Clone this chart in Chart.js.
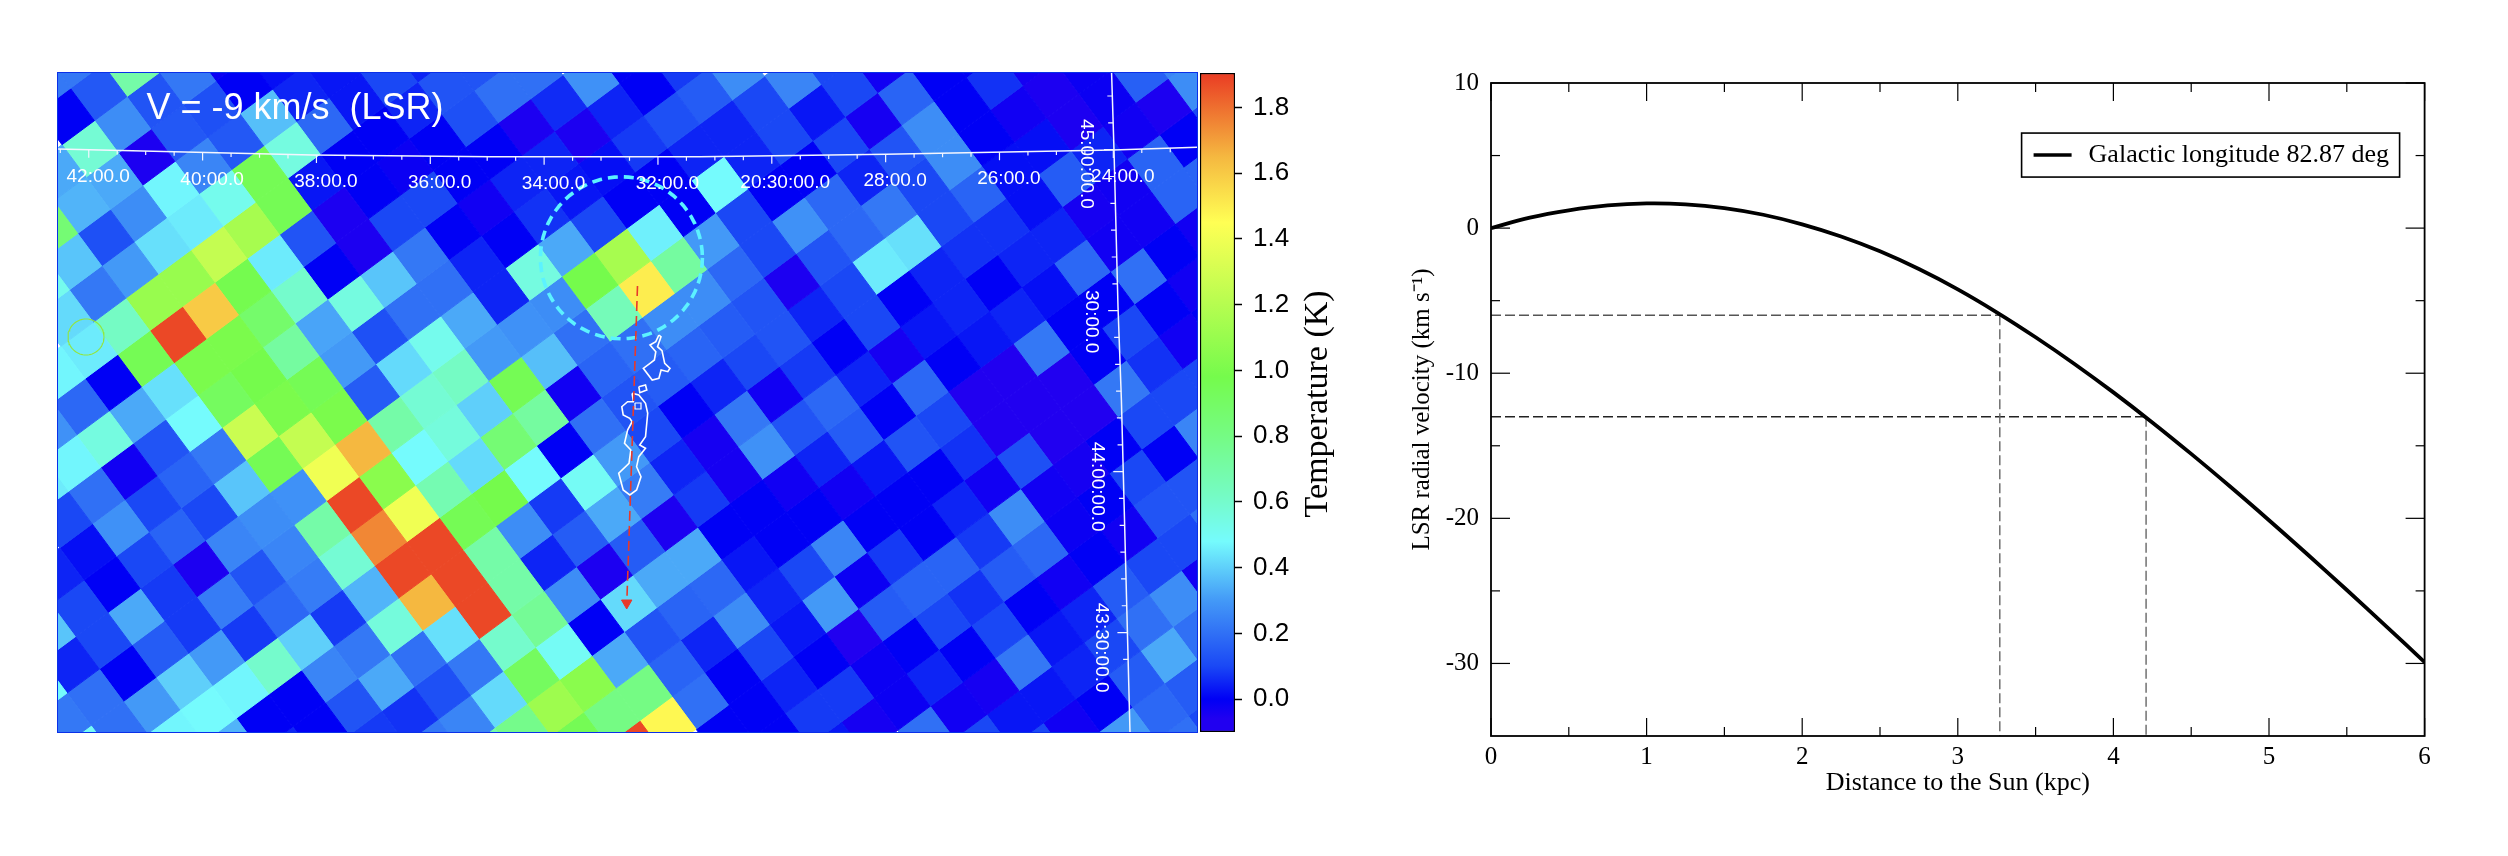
<!DOCTYPE html>
<html>
<head>
<meta charset="utf-8">
<title>Temperature map and rotation curve</title>
<script src="https://cdn.jsdelivr.net/npm/chart.js@4/dist/chart.umd.min.js"></script>
<style>
  html, body { margin: 0; background: #fff; overflow: hidden; }
  canvas { position: absolute; }
  #mapChart { left: 58px; top: 73px; outline: 1.5px solid #0a30e8; }
  #barChart { left: 1190px; top: 40px; }
  #curveChart { left: 1380px; top: 40px; }
</style>
</head>
<body>
<canvas id="mapChart" width="1139" height="659"></canvas>
<canvas id="barChart" width="170" height="800"></canvas>
<canvas id="curveChart" width="1128" height="780"></canvas>
<script>
// brightness temperature (K), one list per tilted map row
const firstRow = -7;
const rowStart = [0,0,-1,-2,-3,-3,-4,-5,-6,-6,-7,-8,-9,-9,-9,-7,-6,-5,-3,-2,-1,1,2,4,5,6,8,9,10,12,13];
const tempRows = [
  [.22,.22],
  [0,.14,.7],
  [.33,.58,.27,.13,.22,-.02],
  [.85,.35,.33,-.05,.14,.12,0,.02],
  [.52,.38,.12,.27,.47,.25,.14,.37,.05,.03],
  [.42,.22,.3,.43,.45,.52,.95,.55,.18,.03,.1,.05],
  [.47,.45,.62,1.1,1.1,1.25,1.15,.95,.03,0,0,.05,.13,.13],
  [.28,.18,0,.95,1.88,1.6,.97,.45,.13,-.05,0,-.02,0,.12,.2,.2],
  [.45,.47,.55,.33,.43,1,1,.88,.6,0,-.05,.1,.1,0,0,-.05,.06,.28,0],
  [.1,.2,-.03,.13,.48,.92,.98,.72,.32,.55,.38,.22,0,-.03,.05,.05,-.05,.05,0,.08],
  [.05,.02,.28,.1,.17,.22,1.27,1,.95,.3,.12,.2,.2,.05,0,.07,.03,.02,.08,.12,.15,.27],
  [.38,.1,0,.1,.17,.1,.38,.95,1.25,1,.15,.42,.52,.33,.05,.55,.33,.1,0,0,.05,.05,.1,.25,.1],
  [.48,.05,.1,.33,.08,-.05,.25,.27,.28,1.4,1.65,.7,.58,.62,.3,.28,.27,.98,1.15,.46,0,.48,.05,.1,.03,.1,-.03],
  [.22,.2,0,.15,.08,.23,.13,.25,.7,1.88,1.05,.48,.56,.4,.95,.37,.2,.65,1.5,.72,.3,.1,0,0,.1,-.04,.17,0,0],
  [.5,.2,.3,.4,.3,.08,.18,.23,.58,1.75,1.4,.67,.42,.85,.72,-.03,.17,.2,.27,.27,.18,.1,.28,.18,.05,.13,.27,0,.07,-.04],
  [.47,.48,.47,.6,.4,.08,.35,1.88,1.88,.95,.98,.48,0,.2,.13,.15,.17,.15,.13,-.05,.13,.18,.22,.1,.27,0,-.03,-.05,-.02],
  [.35,0,0,.25,.22,.56,1.65,1.88,.7,.27,.08,.5,.3,.1,0,.05,.1,.13,.05,.1,.45,.43,.1,.17,.02,.02,-.05,-.02,.16,.25],
  [.05,0,.13,.33,.2,.43,1.88,.7,.05,.15,.33,.23,.05,-.04,.22,-.03,.08,0,.1,0,.05,.07,.07,.02,.15,.05,-.03,-.05,.27],
  [.08,.07,.12,.22,.6,.75,.27,-.05,.15,-.05,.08,-.04,.28,.13,.18,.05,-.04,.03,.05,0,.05,.05,-.04,-.03,.17,0,.1],
  [.22,.25,.42,.92,.5,0,.42,.33,.33,0,0,-.03,.05,.15,0,.18,0,.03,.05,.02,.18,-.03,-.03,.17,.17],
  [.7,.78,1.12,1.05,.33,.13,.17,.18,.03,0,0,-.03,.03,.13,.1,-.08,-.08,.22,0,0,.2,0,-.03],
  [.95,.8,.8,.17,.05,.27,.05,.1,.25,0,0,0,.07,-.08,-.08,-.08,0,.1,0,-.03],
  [1.88,1.47,.2,0,.1,.03,.3,-.02,.08,0,.05,-.03,.12,-.08,-.08,.22,.07,-.03,0],
  [0,0,.05,0,-.06,.15,.17,.17,.08,.27,-.03,-.04,0,.1,.1,.1],
  [0,.08,.08,-.02,0,.1,.07,.15,.18,-.02,0,.1,0,.25],
  [.03,-.04,-.02,.05,0,.1,0,-.03,0,-.03,.13,.13],
  [.2,-.03,-.04,.22,.03,.05,.15,.1,.1,.2],
  [.1,.03,.03,.05,.1,.2,.27,-.03],
  [.1,-.03,0,.15,.33,.2],
  [.3,.18,.15],
  [.2,.1]
];

// colour bar
const barLimits = [-0.1, 1.905];
const barTicks = [0, .2, .4, .6, .8, 1, 1.2, 1.4, 1.6, 1.8];
const stopValues = [-0.1, -0.06, 0, .1, .2, .3, .48, .62, .8, .98, 1.45, 1.65, 1.9];
const stopColors = ['#2100f0','#2100f0','#0000f5','#1a48f5','#3070f5','#4399f7','#75fbfd','#75fbc4','#75fb84','#75fb4c','#ffff54','#f5b840','#ea3e24'];

// sky grid labels
const raLabels = ['42:00.0','40:00.0','38:00.0','36:00.0','34:00.0','32:00.0','20:30:00.0','28:00.0','26:00.0','24:00.0'];
const decLabels = ['45:00:00.0','30:00.0','44:00:00.0','43:30:00.0'];

// rotation curve
const distance = [0,.25,.5,.75,1,1.25,1.5,1.75,2,2.25,2.5,2.75,3,3.25,3.5,3.75,4,4.25,4.5,4.75,5,5.25,5.5,5.75,6];
const velocity = [0,.72,1.22,1.56,1.7,1.64,1.38,.92,.26,-.58,-1.6,-2.82,-4.22,-5.8,-7.52,-9.36,-11.32,-13.39,-15.56,-17.81,-20.13,-22.51,-24.94,-27.41,-29.91];
const markVelocity = [-6, -13];
const markDistance = [3.27, 4.21];
const xTicks = [0,1,2,3,4,5,6];
const xMinor = [.5,1.5,2.5,3.5,4.5,5.5];
const yTicks = [10,0,-10,-20,-30];
const yMinor = [5,-5,-15,-25];

// map geometry, in map pixels
const gridOrigin = [124.1, 233.7];
const stepRow = [24.02, 32.4];
const stepCol = [32.41, -24];
const raLineX = [0, 254, 433, 642, 828, 1055, 1139];
const raLineY = [76, 82, 83.7, 83.7, 81.3, 77, 74.3];
const decLineX = [1053.6, 1056, 1060, 1063.4, 1072];
const decLineY = [0, 77, 233.7, 327, 659];

function colourOf(v) {
  let k = 0;
  while (k < stopValues.length - 2 && v > stopValues[k + 1]) k++;
  const t = Math.min(1, Math.max(0, (v - stopValues[k]) / (stopValues[k + 1] - stopValues[k])));
  const hex = s => [1, 3, 5].map(p => parseInt(s.substr(p, 2), 16));
  const a = hex(stopColors[k]), b = hex(stopColors[k + 1]);
  return 'rgb(' + a.map((c, n) => Math.round(c + (b[n] - c) * t)).join(',') + ')';
}

function gridPoint(i, j) {
  return { x: gridOrigin[0] + i * stepRow[0] + j * stepCol[0], y: gridOrigin[1] + i * stepRow[1] + j * stepCol[1] };
}

function along(xs, ys, v) {
  let k = 0;
  while (k < xs.length - 2 && v > xs[k + 1]) k++;
  return ys[k] + (ys[k + 1] - ys[k]) * (v - xs[k]) / (xs[k + 1] - xs[k]);
}

function ringPoints(cx, cy, r) {
  const pts = [];
  for (let a = 0; a <= 72; a++) pts.push({ x: cx + r * Math.cos(a * Math.PI / 36), y: cy + r * Math.sin(a * Math.PI / 36) });
  return pts;
}

function outline(list) {
  const pts = list.map(p => ({ x: p[0], y: p[1] }));
  pts.push(pts[0]);
  return pts;
}

// sky grid lines with their ticks, a gap between ticks
const raTickMarks = [], decTickMarks = [];
for (let k = 0; k < 40; k++) {
  const x = 2.3 + k * 28.46, y = along(raLineX, raLineY, x);
  raTickMarks.push({ x, y }, { x, y: y + (k % 4 === 1 ? 8 : 4) }, { x, y: null });
}
for (let k = 0; k < 22; k++) {
  const y = 23 + k * 26.83, x = along(decLineY, decLineX, y);
  decTickMarks.push({ x, y }, { x: x - (k % 6 === 2 ? 10 : 5), y }, { x: null, y });
}

const overlay = (data, color, width, dash) => ({ data, borderColor: color, borderWidth: width, borderDash: dash || [], fill: false, pointRadius: 0 });

const mapSets = [
  { data: [{ x: 568.7, y: 530 }], pointStyle: 'triangle', rotation: 180, pointRadius: 6, backgroundColor: '#e8392a', borderColor: '#e8392a', showLine: false },
  overlay([{ x: 579.5, y: 213 }, { x: 568.7, y: 533 }], '#e8392a', 1.6, [10, 5]),
  overlay(outline([[600.9,262],[597.8,268.7],[592,272],[597.8,278.7],[596.4,287],[592,290.3],[585.3,295.3],[594.2,307],[600.9,305.3],[603.1,297],[609.8,298.7],[612,295.3],[606.7,290.3],[604,277.7],[599.5,273.7],[603,263.7]]), '#fff', 1.6),
  overlay(outline([[580.8,313.7],[587.5,312],[588.8,317],[581.8,319.7]]), '#fff', 1.6),
  overlay(outline([[574.1,320.3],[575.4,328.7],[569.6,328.7],[563.8,333.7],[565.2,342],[571.8,345.3],[574.1,348.7],[569.6,357],[566.5,370.3],[572.8,377],[571,390.3],[560.7,400.3],[565.2,417],[571.8,422],[578.6,417],[583,403.7],[578.6,393.7],[580.8,383.7],[587.5,375.3],[581.7,372],[587.5,363.7],[589.7,340.3],[587.5,330.3],[580.8,322]]), '#fff', 1.6),
  overlay(outline([[577,330],[583,330],[583,336],[577,336]]), '#fff', 1.2),
  overlay(ringPoints(563.4, 184.8, 81), '#5cf2ff', 3.6, [10, 6]),
  overlay(ringPoints(28, 264, 18), '#93e63c', 1.1),
  overlay(raLineX.map((x, n) => ({ x, y: raLineY[n] })), '#f4f6ff', 1.5),
  overlay(decLineX.map((x, n) => ({ x, y: decLineY[n] })), '#f4f6ff', 1.5),
  overlay(raTickMarks, '#f4f6ff', 1.2),
  overlay(decTickMarks, '#f4f6ff', 1.2)
];

// one filled polygon per map cell
tempRows.forEach((row, r) => {
  const i = firstRow + r;
  row.forEach((v, c) => {
    const j = rowStart[r] + c;
    const col = colourOf(v);
    mapSets.push({
      data: [gridPoint(i, j), gridPoint(i + 1, j), gridPoint(i + 1, j + 1), gridPoint(i, j + 1), gridPoint(i, j)],
      backgroundColor: col, borderColor: col, borderWidth: 1, fill: 'shape', pointRadius: 0
    });
  });
});

const mapText = {
  id: 'mapText',
  afterDatasetsDraw(chart) {
    const { ctx, scales } = chart;
    const px = v => scales.x.getPixelForValue(v), py = v => scales.y.getPixelForValue(v);
    ctx.save();
    ctx.fillStyle = '#fff';
    ctx.textAlign = 'left';
    ctx.textBaseline = 'alphabetic';
    ctx.font = '36px "Liberation Sans"';
    ctx.fillText('V = -9 km/s  (LSR)', px(88.4), py(46));
    ctx.font = '19px "Liberation Sans"';
    ctx.textAlign = 'center';
    ctx.textBaseline = 'middle';
    raLabels.forEach((t, n) => {
      const x = 40.2 + n * 113.84 + (n === 6 ? 4 : 0);
      ctx.fillText(t, px(x), py(along(raLineX, raLineY, x) + 27));
    });
    const decPos = [[1028.6, 91], [1033, 248.7], [1039, 413.7], [1043, 574.7]];
    decLabels.forEach((t, n) => {
      ctx.save();
      ctx.translate(px(decPos[n][0]), py(decPos[n][1]));
      ctx.rotate(Math.PI / 2);
      ctx.fillText(t, 0, 0);
      ctx.restore();
    });
    ctx.restore();
  }
};

new Chart(document.getElementById('mapChart'), {
  type: 'scatter',
  data: { datasets: mapSets },
  plugins: [mapText],
  options: {
    responsive: false, animation: false, devicePixelRatio: 1,
    layout: { padding: 0, autoPadding: false },
    plugins: { legend: { display: false }, tooltip: { enabled: false } },
    elements: { line: { tension: 0 } },
    showLine: true,
    scales: {
      x: { type: 'linear', min: 0, max: 1139, display: false },
      y: { type: 'linear', min: 0, max: 659, reverse: true, display: false }
    }
  }
});

// bar title reads upward, so it is not the axis title
const barTitle = {
  id: 'barTitle',
  afterDraw(chart) {
    const { ctx, scales } = chart;
    ctx.save();
    ctx.translate(128, scales.y.getPixelForValue(0.95) + 17);
    ctx.rotate(-Math.PI / 2);
    ctx.fillStyle = '#000';
    ctx.font = '34px "Liberation Serif"';
    ctx.textAlign = 'center';
    ctx.textBaseline = 'middle';
    ctx.fillText('Temperature (K)', 0, 0);
    ctx.restore();
  }
};

new Chart(document.getElementById('barChart'), {
  type: 'bar',
  data: {
    labels: ['T'],
    datasets: [{
      data: [barLimits],
      barPercentage: 1, categoryPercentage: 1,
      borderColor: '#000', borderWidth: 1.5, borderSkipped: false,
      backgroundColor(ctx) {
        const { chart } = ctx;
        if (!chart.chartArea) return '#000';
        const y = chart.scales.y;
        const g = chart.ctx.createLinearGradient(0, y.getPixelForValue(barLimits[0]), 0, y.getPixelForValue(barLimits[1]));
        stopValues.forEach((v, n) => {
          g.addColorStop(Math.min(1, (v - barLimits[0]) / (barLimits[1] - barLimits[0])), stopColors[n]);
        });
        return g;
      }
    }]
  },
  plugins: [barTitle],
  options: {
    responsive: false, animation: false, devicePixelRatio: 1,
    layout: { padding: { left: 10, top: 33, bottom: 108, right: 0 }, autoPadding: false },
    plugins: { legend: { display: false }, tooltip: { enabled: false } },
    scales: {
      x: { display: false },
      y: {
        position: 'right', min: barLimits[0], max: barLimits[1],
        afterBuildTicks: s => { s.ticks = barTicks.map(value => ({ value })); },
        afterFit: s => { s.width = 125; },
        grid: { drawOnChartArea: false, tickLength: 7, tickColor: '#000', tickWidth: 1.5 },
        border: { display: false },
        ticks: { color: '#000', padding: 11, autoSkip: false, font: { family: 'Liberation Sans', size: 26 }, callback: v => v.toFixed(1) }
      }
    }
  }
});

const dashedGuide = (pts, color) => ({ data: pts, borderColor: color, borderWidth: 1.4, borderDash: [10, 4], pointRadius: 0, fill: false });

// inward ticks on all four sides
const innerTicks = {
  id: 'innerTicks',
  afterDraw(chart) {
    const { ctx, scales, chartArea: a } = chart;
    const seg = (x1, y1, x2, y2) => { ctx.beginPath(); ctx.moveTo(x1, y1); ctx.lineTo(x2, y2); ctx.stroke(); };
    ctx.save();
    ctx.strokeStyle = '#000';
    ctx.lineWidth = 1.2;
    const xTick = (v, len) => { const p = scales.x.getPixelForValue(v); seg(p, a.top, p, a.top + len); seg(p, a.bottom, p, a.bottom - len); };
    const yTick = (v, len) => { const p = scales.y.getPixelForValue(v); seg(a.left, p, a.left + len, p); seg(a.right, p, a.right - len, p); };
    xTicks.forEach(v => xTick(v, 18));
    xMinor.forEach(v => xTick(v, 9));
    yTicks.forEach(v => yTick(v, 19));
    yMinor.forEach(v => yTick(v, 9));
    ctx.lineWidth = 1.8;
    ctx.strokeRect(a.left, a.top, a.right - a.left, a.bottom - a.top);
    // legend box
    const lx = scales.x.getPixelForValue(3.41), ly = scales.y.getPixelForValue(6.55);
    ctx.fillStyle = '#fff';
    ctx.lineWidth = 1.6;
    ctx.fillRect(lx, ly, 378, 44);
    ctx.strokeRect(lx, ly, 378, 44);
    ctx.lineWidth = 3.5;
    seg(lx + 12, ly + 22, lx + 50, ly + 22);
    ctx.fillStyle = '#000';
    ctx.font = '26px "Liberation Serif"';
    ctx.textAlign = 'left';
    ctx.textBaseline = 'middle';
    ctx.fillText(curveSets[0].label, lx + 67, ly + 22);
    ctx.restore();
  }
};

const curveSets = [
  { label: 'Galactic longitude 82.87 deg', data: distance.map((x, n) => ({ x, y: velocity[n] })), borderColor: '#000', borderWidth: 3.8, pointRadius: 0, fill: false, tension: 0.4 },
  dashedGuide([{ x: 0, y: markVelocity[0] }, { x: markDistance[0], y: markVelocity[0] }], '#555'),
  dashedGuide([{ x: markDistance[0], y: markVelocity[0] }, { x: markDistance[0], y: -35 }], '#666'),
  dashedGuide([{ x: 0, y: markVelocity[1] }, { x: markDistance[1], y: markVelocity[1] }], '#222'),
  dashedGuide([{ x: markDistance[1], y: markVelocity[1] }, { x: markDistance[1], y: -35 }], '#666')
];

new Chart(document.getElementById('curveChart'), {
  type: 'scatter',
  data: { datasets: curveSets },
  plugins: [innerTicks],
  options: {
    responsive: false, animation: false, devicePixelRatio: 1,
    showLine: true,
    layout: { padding: { top: 43, right: 83.4, left: 0, bottom: 0 }, autoPadding: false },
    plugins: { legend: { display: false }, tooltip: { enabled: false } },
    scales: {
      x: {
        type: 'linear', min: 0, max: 6,
        afterBuildTicks: s => { s.ticks = xTicks.map(value => ({ value })); },
        afterFit: s => { s.height = 84; },
        grid: { display: false }, border: { display: false },
        ticks: { color: '#000', padding: -2, maxRotation: 0, font: { family: 'Liberation Serif', size: 25 } },
        title: { display: true, text: 'Distance to the Sun (kpc)', color: '#000', padding: { top: 0, bottom: 21 }, font: { family: 'Liberation Serif', size: 26 } }
      },
      y: {
        type: 'linear', min: -35, max: 10,
        afterBuildTicks: s => { s.ticks = yTicks.map(value => ({ value })); },
        afterFit: s => { s.width = 111; },
        grid: { display: false }, border: { display: false },
        ticks: { color: '#000', padding: 4, font: { family: 'Liberation Serif', size: 25 } },
        title: { display: true, text: 'LSR radial velocity (km s\u207B\u00B9)', color: '#000', padding: { top: 27, bottom: 0 }, font: { family: 'Liberation Serif', size: 25 } }
      }
    }
  }
});
</script>
</body>
</html>
